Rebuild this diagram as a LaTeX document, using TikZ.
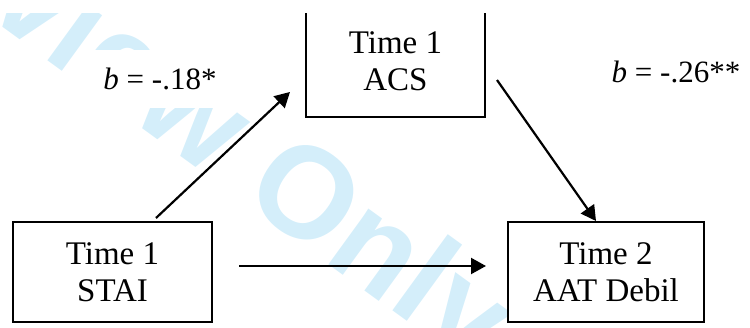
\documentclass[tikz,border=0pt]{standalone}
\usepackage{fontspec}
\setmainfont{Liberation Serif}
\newfontfamily\wmfont{Liberation Sans}
\usetikzlibrary{arrows.meta,calc}
\definecolor{wmblue}{RGB}{212,238,250}
\begin{document}
\begin{tikzpicture}[x=1pt,y=-1pt,
  box/.style={draw=black, line width=2pt, fill=white, align=center, inner sep=0pt,
    font=\fontsize{33}{37}\selectfont},
  arr/.style={line width=2.2pt, -{Triangle[length=15pt,width=16pt]}},
  lbl/.style={font=\fontsize{31}{37}\selectfont, fill=white, inner sep=0pt,
    minimum width=160pt, minimum height=58pt},
  wm/.style={text=wmblue, font=\wmfont\bfseries\fontsize{130}{130}\selectfont,
    rotate=-36, anchor=base east, inner sep=0pt}]
\useasboundingbox (0,0) rectangle (750,327);
\begin{scope}
\clip (0,13) rectangle (750,327);
\node[wm] (wmark) at (473.6,369.7) {For Peer Review Only};
\node[lbl] (l1) at (160,79) {\textit{b} = -.18*};
\node[lbl] (l2) at (676,71.5) {\textit{b} = -.26**};
\node[box, minimum width=199pt, minimum height=100pt] (stai) at (112.5,272) {Time 1\\STAI};
\node[box, minimum width=179pt, minimum height=111pt] (acs) at (395.5,61.5) {Time 1\\ACS};
\node[box, minimum width=196pt, minimum height=100pt] (aat) at (606,272) {Time 2\\AAT Debil};
\coordinate (a1s) at (156,218);
\coordinate (a1e) at (290,92);
\coordinate (a2s) at (497,80);
\coordinate (a2e) at (596,221);
\coordinate (a3s) at (239,266);
\coordinate (a3e) at (486,266);
\draw[arr] (a1s) -- (a1e);
\draw[arr] (a2s) -- (a2e);
\draw[arr] (a3s) -- (a3e);
\end{scope}
\end{tikzpicture}
\end{document}
